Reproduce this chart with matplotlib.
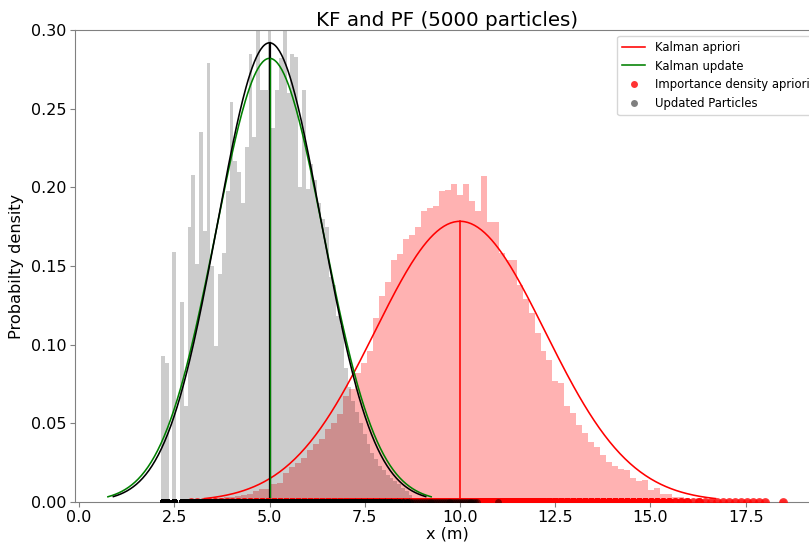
import numpy as np
import matplotlib
matplotlib.use("Agg")
import matplotlib.pyplot as plt
from matplotlib.lines import Line2D

# ---------------- data ----------------
title = "KF and PF (5000 particles)"
x_label = "x (m)"
y_label = "Probabilty density"
n_particles = 5000

# Kalman filter Gaussians (mean, variance)
kf_prior_mean = 10.0
kf_prior_var = 5.0
kf_update_mean = 5.0
kf_update_var = 2.0
# Gaussian fitted to the updated particles (black curve)
pf_fit_mean = 5.0
pf_fit_var = 1.867

# Histogram of importance-density (apriori) particles
prior_hist_start = 2.85
prior_hist_width = 0.157
prior_hist_heights = [
    0.0013, 0.0013, 0.0015, 0.002, 0.002, 0.0025, 0.003, 0.003, 0.0035, 0.004,
    0.0048, 0.007, 0.008, 0.0083, 0.011, 0.0117, 0.018, 0.022, 0.0245, 0.028,
    0.033, 0.037, 0.040, 0.046, 0.050, 0.056, 0.067, 0.072, 0.082, 0.088,
    0.096, 0.117, 0.131, 0.140, 0.154, 0.1575, 0.167, 0.170, 0.1745, 0.185,
    0.187, 0.188, 0.198, 0.1985, 0.202, 0.195, 0.202, 0.1915, 0.185, 0.207,
    0.178, 0.178, 0.1585, 0.154, 0.154, 0.138, 0.1287, 0.120, 0.1075, 0.0958,
    0.090, 0.0766, 0.0756, 0.0606, 0.0564, 0.049, 0.0437, 0.0383, 0.035, 0.030,
    0.025, 0.023, 0.021, 0.020, 0.015, 0.013, 0.014, 0.0075, 0.009, 0.005,
    0.005, 0.003, 0.003, 0.0025, 0.0013, 0.0025, 0.0013, 0.0013, 0.0013, 0.0013,
    0.0013, 0.0013, 0.0013, 0.0013, 0.0013, 0.0013, 0.0013, 0.0, 0.0, 0.0013,
]

# Histogram of updated particles
upd_hist_start = 2.15
upd_hist_width = 0.1
upd_hist_heights = [
    0.093, 0.088, 0.0, 0.159, 0.0, 0.127, 0.061, 0.175, 0.208, 0.151,
    0.235, 0.172, 0.279, 0.150, 0.099, 0.145, 0.158, 0.198, 0.254, 0.217,
    0.210, 0.190, 0.226, 0.285, 0.232, 0.330, 0.262, 0.262, 0.320, 0.238,
    0.262, 0.282, 0.310, 0.260, 0.285, 0.283, 0.200, 0.262, 0.199, 0.215,
    0.205, 0.190, 0.180, 0.175, 0.143, 0.138, 0.118, 0.112, 0.085, 0.073,
    0.064, 0.057, 0.050, 0.043, 0.037, 0.031, 0.027, 0.023, 0.020, 0.017,
    0.015, 0.013, 0.011, 0.009, 0.007, 0.004,
]
# sparse updated particles beyond the visible histogram (at y=0)
upd_extra_particles = [
    8.75, 8.8, 8.85, 8.9, 8.95, 9.0, 9.05, 9.1, 9.15, 9.2, 9.25, 9.3, 9.35,
    9.4, 9.45, 9.5, 9.55, 9.6, 9.65, 9.7, 9.75, 9.8, 9.85, 9.9, 9.95, 10.0,
    10.05, 10.1, 10.15, 10.2, 10.25, 10.3, 10.35, 10.4, 10.45, 11.0,
]

x_ticks = [0.0, 2.5, 5.0, 7.5, 10.0, 12.5, 15.0, 17.5]
y_ticks = [0.00, 0.05, 0.10, 0.15, 0.20, 0.25, 0.30]

# ---------------- figure ----------------
W, H = 809, 544
fig = plt.figure(figsize=(W / 100, H / 100), dpi=100)
ax_left, ax_right, ax_top, ax_bottom = 74.5, 820.0, 30.2, 501.7
ax = fig.add_axes([ax_left / W, (H - ax_bottom) / H,
                   (ax_right - ax_left) / W, (ax_bottom - ax_top) / H])

prior_edges = prior_hist_start + prior_hist_width * np.arange(len(prior_hist_heights))
upd_edges = upd_hist_start + upd_hist_width * np.arange(len(upd_hist_heights))

ax.bar(prior_edges, prior_hist_heights, width=prior_hist_width, align="edge",
       color="red", alpha=0.3, linewidth=0, zorder=1)
ax.bar(upd_edges, upd_hist_heights, width=upd_hist_width, align="edge",
       color="black", alpha=0.2, linewidth=0, zorder=1.1)


def gauss(mean, var):
    s = np.sqrt(var)
    xs = np.linspace(mean - 3 * s, mean + 3 * s, 300)
    return xs, np.exp(-(xs - mean) ** 2 / (2 * var)) / np.sqrt(2 * np.pi * var)


lw = 1.15
xr, yr = gauss(kf_prior_mean, kf_prior_var)
ax.plot(xr, yr, color="red", lw=lw, zorder=2)
ax.plot([kf_prior_mean, kf_prior_mean], [0, yr.max()], color="red", lw=lw, zorder=2)

xg, yg = gauss(kf_update_mean, kf_update_var)
xb, yb = gauss(pf_fit_mean, pf_fit_var)
ax.plot(xg, yg, color="green", lw=lw, zorder=2.1)
ax.plot(xb, yb, color="black", lw=lw, zorder=2.2)
ax.plot([pf_fit_mean, pf_fit_mean], [0, yb.max()], color="black", lw=1.6, zorder=2.3)
ax.plot([kf_update_mean, kf_update_mean], [0, yg.max()], color="green", lw=0.9, zorder=2.4)

# particles at y = 0: each histogram bin holds height*N*width particles
prior_counts = np.rint(np.array(prior_hist_heights) * n_particles * prior_hist_width).astype(int)
prior_counts[(np.array(prior_hist_heights) > 0) & (prior_counts == 0)] = 1
prior_particles = np.repeat(prior_edges + prior_hist_width / 2, prior_counts)

upd_counts = np.rint(np.array(upd_hist_heights) * n_particles * upd_hist_width).astype(int)
upd_particles = np.concatenate([np.repeat(upd_edges + upd_hist_width / 2, upd_counts),
                                np.array(upd_extra_particles)])

ax.scatter(prior_particles, np.zeros(len(prior_particles)), s=40, color="red",
           alpha=0.8, linewidths=0, zorder=3)
ax.scatter(upd_particles, np.zeros(len(upd_particles)), s=24, color="black",
           alpha=0.5, linewidths=0, zorder=3.1)

ax.set_xlim(-0.12, 19.45)
ax.set_ylim(0, 0.30)
ax.set_xticks(x_ticks)
ax.set_yticks(y_ticks)
ax.set_xticklabels([f"{t:.1f}" for t in x_ticks])
ax.set_yticklabels([f"{t:.2f}" for t in y_ticks])
ax.tick_params(labelsize=11.5, pad=2.5, color="0.5", width=0.8)
for sp in ax.spines.values():
    sp.set_color("0.5")
    sp.set_linewidth(0.8)

ax.set_title(title, fontsize=14.3, pad=3)
ax.set_xlabel(x_label, fontsize=11.6, labelpad=1)
ax.set_ylabel(y_label, fontsize=11.6, labelpad=5)

handles = [
    Line2D([], [], color="red", lw=lw),
    Line2D([], [], color="green", lw=lw),
    Line2D([], [], marker="o", color="red", alpha=0.8, ls="", markersize=5, markeredgewidth=0),
    Line2D([], [], marker="o", color="black", alpha=0.5, ls="", markersize=5, markeredgewidth=0),
]
labels = ["Kalman apriori", "Kalman update", "Importance density apriori", "Updated Particles"]
ax.legend(handles, labels, loc="upper right", fontsize=8.4)

fig.savefig("out.png", dpi=100)
